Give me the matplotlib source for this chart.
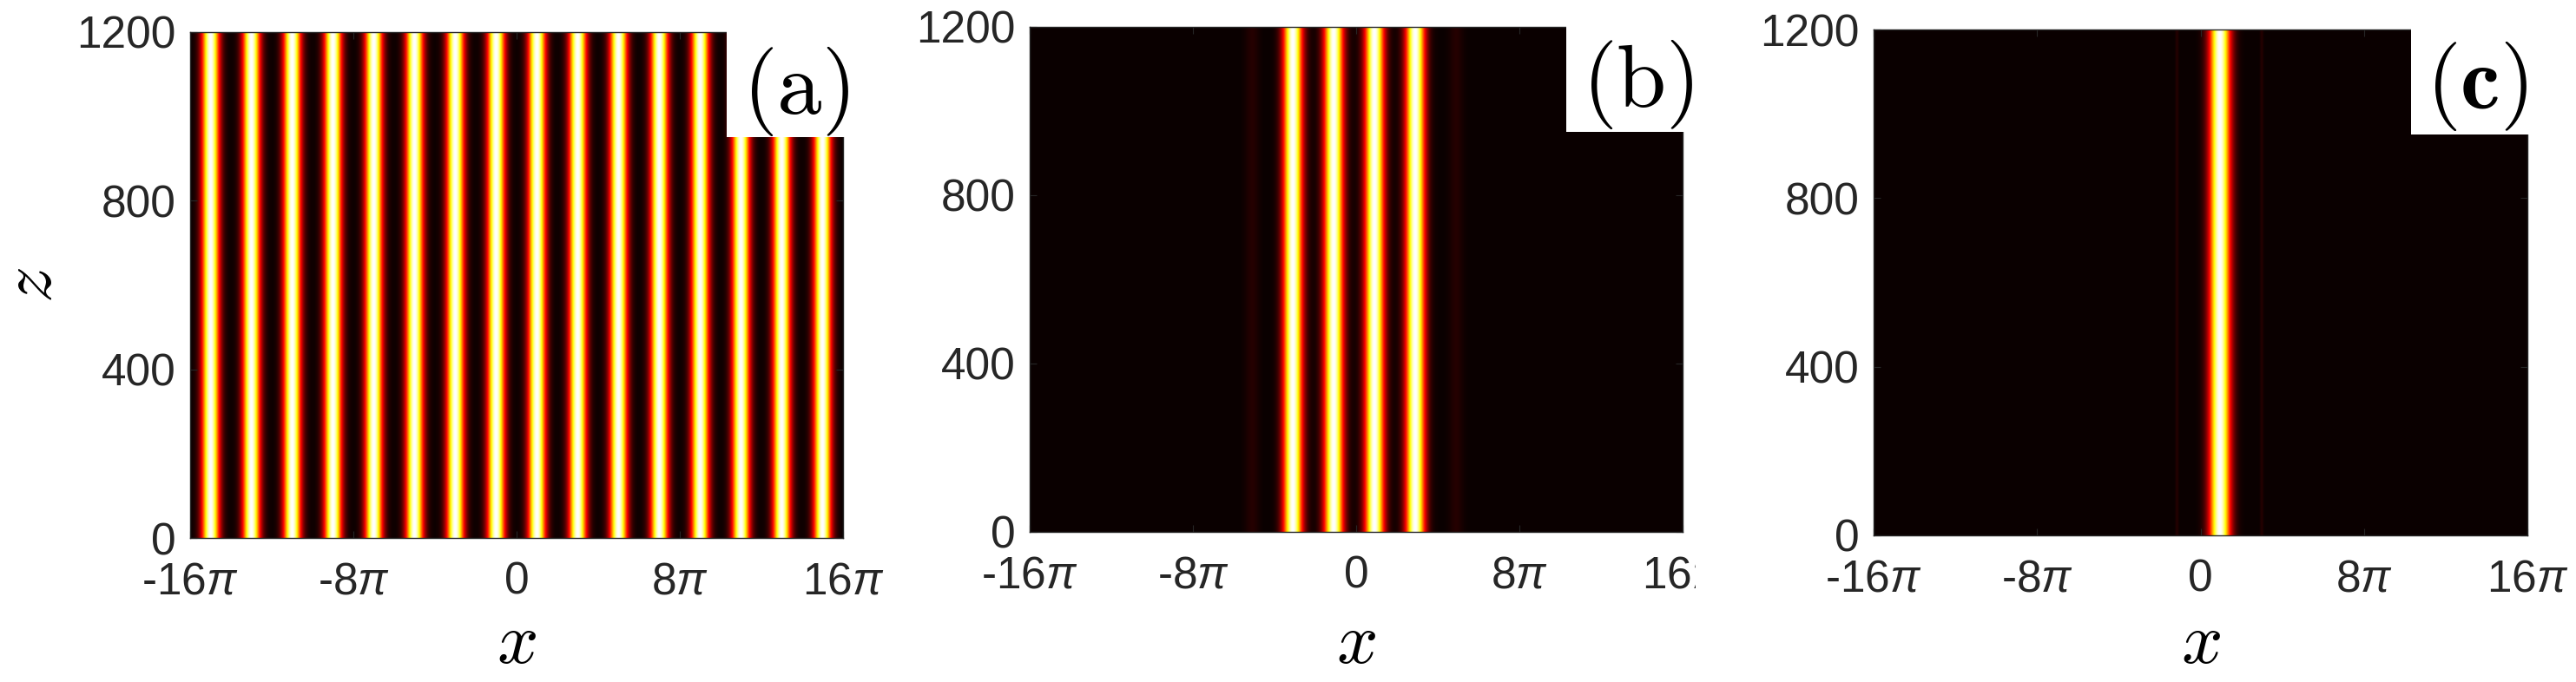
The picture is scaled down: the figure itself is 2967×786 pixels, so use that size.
import numpy as np
import matplotlib
matplotlib.use('Agg')
import matplotlib.pyplot as plt
from matplotlib.patches import Rectangle
from matplotlib.transforms import Bbox, TransformedBbox

plt.rcParams['font.family'] = ['Liberation Sans', 'DejaVu Sans']
plt.rcParams['mathtext.fontset'] = 'custom'
plt.rcParams['mathtext.it'] = 'Liberation Sans:italic'
plt.rcParams['mathtext.rm'] = 'Liberation Sans'
plt.rcParams['mathtext.bf'] = 'Liberation Sans:bold'

# ---------------- data ----------------
x_tick_values_pi = [-16, -8, 0, 8, 16]
x_tick_labels = ['-16$\\pi$', '-8$\\pi$', '0', '8$\\pi$', '16$\\pi$']
z_tick_values = [0, 400, 800, 1200]
z_range = [0, 1200]
panel_labels = [r'$\mathrm{(a)}$', r'$\mathrm{(b)}$', r'$\mathbf{(c)}$']

# peak positions (units of pi), amplitudes, gaussian widths (units of pi)
peaks_a_pos = [-15, -13, -11, -9, -7, -5, -3, -1, 1, 3, 5, 7, 9, 11, 13, 15]
peaks_a_amp = [1, 1, 1, 1, 1, 1, 1, 1, 1, 1, 1, 1, 1, 1, 1, 1]
peaks_a_wid = [0.3, 0.3, 0.3, 0.3, 0.3, 0.3, 0.3, 0.3, 0.3, 0.3, 0.3, 0.3, 0.3, 0.3, 0.3, 0.3]

peaks_b_pos = [-5.1, -3.1, -1.1, 0.9, 2.9, 4.9]
peaks_b_amp = [0.04, 1.0, 1.0, 1.0, 1.0, 0.04]
peaks_b_wid = [0.25, 0.33, 0.33, 0.33, 0.33, 0.25]

peaks_c_pos = [-1.15, 0.95, 3.0]
peaks_c_amp = [0.04, 1.0, 0.04]
peaks_c_wid = [0.06, 0.36, 0.06]

panels = [
    (peaks_a_pos, peaks_a_amp, peaks_a_wid),
    (peaks_b_pos, peaks_b_amp, peaks_b_wid),
    (peaks_c_pos, peaks_c_amp, peaks_c_wid),
]

# ---------------- layout ----------------
W, H = 2967, 786
fig = plt.figure(figsize=(W / 100, H / 100), dpi=100)

axes_px = [(219, 37, 971, 620), (1186, 31, 1938, 613), (2158, 34, 2911, 617)]
label_pos = [(0.927, 0.883), (0.931, 0.885), (0.923, 0.887)]
dark = '#262626'

x = np.linspace(-16 * np.pi, 16 * np.pi, 3001)

for i, ((pos, amp, wid), (l, t, r, b)) in enumerate(zip(panels, axes_px)):
    ax = fig.add_axes([l / W, 1 - b / H, (r - l) / W, (b - t) / H])
    prof = np.zeros_like(x)
    for p, a, w in zip(pos, amp, wid):
        prof += a * np.exp(-(x - p * np.pi) ** 2 / (2 * (w * np.pi) ** 2))
    img = np.tile(prof, (2, 1))
    ax.imshow(img, extent=[-16 * np.pi, 16 * np.pi, z_range[0], z_range[1]],
              aspect='auto', origin='lower', cmap='hot', vmin=0, vmax=1,
              interpolation='bilinear')
    ax.set_xlim(-16 * np.pi, 16 * np.pi)
    ax.set_ylim(z_range[0], z_range[1])
    ax.set_xticks(np.array(x_tick_values_pi) * np.pi)
    ax.set_xticklabels(x_tick_labels)
    ax.set_yticks(z_tick_values)
    ax.set_yticklabels([str(v) for v in z_tick_values])
    ax.tick_params(direction='in', length=5.8, width=0.8, color=dark,
                   labelcolor=dark, labelsize=37, top=True, right=True)
    ax.tick_params(axis='x', pad=19)
    ax.tick_params(axis='y', pad=12)
    for s in ax.spines.values():
        s.set_color(dark)
        s.set_linewidth(1.0)

    # white label box at top right
    ax.add_patch(Rectangle((0.822, 0.792), 0.25, 0.25, transform=ax.transAxes,
                           facecolor='white', edgecolor='none', clip_on=False,
                           zorder=5))
    lx, ly = label_pos[i]
    ax.text(lx, ly, panel_labels[i], transform=ax.transAxes, ha='center',
            va='center', fontsize=74, math_fontfamily='cm', color='black',
            zorder=6)

    # x label
    fig.text((l + r) / 2 / W, 1 - 742 / H, r'$x$', fontsize=60,
             math_fontfamily='cm', ha='center', va='center', color='black')

    if i == 1:
        # last tick label of panel (b) is cut off in the original
        clip = TransformedBbox(Bbox.from_extents(0, 0, 1953 / W, 1), fig.transFigure)
        lab = ax.xaxis.get_major_ticks()[-1].label1
        lab.set_clip_on(True)
        lab.set_clip_box(clip)

fig.text(37 / W, 1 - 329 / H, r'$z$', fontsize=60, math_fontfamily='cm',
         rotation=90, ha='center', va='center', color='black')

fig.savefig('out.png', dpi=100, facecolor='white')
